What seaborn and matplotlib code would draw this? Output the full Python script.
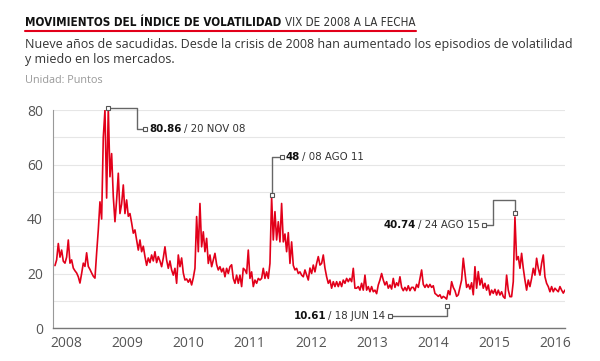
import numpy as np
import pandas as pd
import matplotlib
matplotlib.use('Agg')
import matplotlib.pyplot as plt
import seaborn as sns
from matplotlib.transforms import IdentityTransform
from matplotlib import font_manager
from matplotlib.font_manager import FontProperties

# VIX semanal (lectura del grafico), 2008 - 2016
vix = [22.9, 25, 31, 26, 28.6, 24.5, 23.8, 26, 32.3, 23.8,
       25, 22, 21, 20.2, 18.8, 16.5, 20, 23.8, 22.6, 27.6,
       22.6, 21.5, 20.2, 19, 18.3, 27.5, 36, 46.3, 40, 70,
       80, 47.7, 80.86, 55.5, 64, 48.2, 39, 47, 56.8, 42,
       45.5, 52.5, 42, 47, 41, 42, 38.6, 34.8, 36, 32.3,
       28.6, 32.3, 28, 30, 26.2, 23, 25.7, 24, 26.8, 24.6,
       28, 24, 26.2, 24.6, 22.5, 25.7, 29.8, 24.9, 21.9, 24.6,
       21.3, 19.4, 21.9, 16.4, 26.8, 22.5, 25.7, 20.2, 17.6, 18,
       16.8, 18, 15.8, 18.4, 21.9, 40.9, 28, 45.7, 29.8, 35.3,
       28, 32.9, 23.7, 26.8, 22.5, 25, 27.4, 23.3, 21.3, 22.5,
       20.6, 21.9, 18.8, 21.9, 20, 22.5, 23.2, 18.2, 16.4, 19.4,
       16.4, 19.4, 15.2, 21.9, 21.3, 20, 28.6, 18.2, 20.6, 15.2,
       17.6, 16.4, 18.2, 17.6, 18.2, 21.9, 18.2, 20.6, 18.2, 23.7,
       48, 32.3, 42.7, 32.3, 39, 31.6, 45.7, 31.6, 34.5, 28,
       35, 23.7, 31.6, 23, 21.3, 21.9, 20, 20.6, 19.4, 18.8,
       21.3, 19.4, 17.6, 22, 20, 23.1, 20.6, 23.7, 26.2, 23.1,
       23.7, 26.8, 22, 18.8, 16.4, 17.6, 14.6, 17, 15.2, 17,
       15.2, 17, 15.2, 17.6, 16.4, 18.2, 17, 18.2, 17, 21.9,
       14.6, 14.6, 15.2, 13.9, 16.4, 13.9, 19.4, 13.9, 15.2, 13.3,
       15.2, 13.3, 13.9, 12.6, 15.8, 17.6, 20, 17.6, 15.8, 17,
       14.6, 15.8, 14.3, 18.2, 14.9, 16.6, 15.5, 18.8, 14.9, 13.7,
       14.9, 13.7, 15.5, 13.7, 14.9, 14.9, 13.7, 16, 14.9, 18.2,
       21.3, 16, 14.9, 16, 14.9, 16, 14.9, 15.5, 12.7, 12.2,
       11.6, 12.2, 10.9, 11.6, 11.2, 10.61, 13.7, 12.2, 17, 14.9,
       13.7, 11.6, 12.2, 14.9, 17.6, 25.6, 20.2, 14.9, 16, 14.3,
       16.6, 12.2, 22.5, 14.6, 20.7, 15.8, 18.2, 14.6, 16.4, 13.9,
       15.8, 12.1, 13.9, 12.7, 14.2, 12.1, 13.9, 12.1, 13.3, 11.5,
       10.9, 19.4, 13.9, 11.5, 11.5, 17, 40.74, 25, 26.2, 21.9,
       27.4, 21.9, 17.6, 13.9, 17.6, 15.2, 18.2, 21.9, 19.4, 25.6,
       21.9, 19.4, 23.7, 26.8, 18.8, 16.4, 15.2, 13.3, 15.2, 13.3,
       14.6, 13.9, 13.3, 15.2, 13.9, 12.8, 13.9]

inicio, fin = 2007.82, 2016.153
anios = [2008, 2009, 2010, 2011, 2012, 2013, 2014, 2015, 2016]
niveles = [0, 20, 40, 60, 80]

# puntos destacados
clave_valor = [80.86, 48, 40.74, 10.61]
clave_fecha = ['20 NOV 08', '08 AGO 11', '24 AGO 15', '18 JUN 14']

fecha = np.linspace(inicio, fin, len(vix))
df = pd.DataFrame({'fecha': fecha, 'vix': vix})

# fuente estrecha si existe alguna instalada
def buscar(bold):
    for f in font_manager.fontManager.ttflist:
        n = f.fname.lower()
        if ('condensed' in n or 'narrow' in n) and 'oblique' not in n and 'italic' not in n:
            es_bold = 'bold' in n
            if es_bold == bold:
                return f.fname
    return None

f_reg, f_bold = buscar(False), buscar(True)
hay_estrecha = f_reg is not None and f_bold is not None
escala = 1.0 if hay_estrecha else 0.86

def fp(bold, size):
    if hay_estrecha:
        return FontProperties(fname=f_bold if bold else f_reg, size=size)
    return FontProperties(family='DejaVu Sans', weight='bold' if bold else 'normal', size=size * escala)

sns.set_style('white')
plt.rcParams['font.family'] = ['Open Sans', 'DejaVu Sans']

fig = plt.figure(figsize=(6, 3.61), dpi=100)
ax = fig.add_axes([52.7 / 600, 1 - 328 / 361, (565 - 52.7) / 600, (328 - 110) / 361])

sns.lineplot(data=df, x='fecha', y='vix', ax=ax, color='#e2001a', linewidth=1.2)

ax.set_xlim(2007.783, 2016.154)
ax.set_ylim(0, 80)
ax.set_xticks(anios)
ax.set_xticklabels([str(a) for a in anios])
ax.set_yticks(niveles)
ax.set_yticks(range(10, 81, 10), minor=True)
ax.grid(True, which='both', axis='y', color='#e6e6e6', linewidth=0.8)
ax.grid(False, axis='x')
ax.set_axisbelow(True)
ax.tick_params(axis='both', which='both', length=0, labelsize=10, labelcolor='#555555')
ax.tick_params(axis='y', pad=7)
ax.tick_params(axis='x', pad=6)
ax.set_xlabel('')
ax.set_ylabel('')
for s in ['top', 'right']:
    ax.spines[s].set_visible(False)
ax.spines['left'].set_color('#999999')
ax.spines['left'].set_linewidth(0.8)
ax.spines['bottom'].set_color('#777777')
ax.spines['bottom'].set_linewidth(1.0)

fig.canvas.draw()
r = fig.canvas.get_renderer()
H = 361

def px(x, y):
    return x, H - y

def dos_partes(x, y, fuerte, resto, size, ha='left'):
    # texto con parte en negrita + resto normal, en pixeles (y hacia abajo)
    if ha == 'left':
        t1 = fig.text(*px(x, y), fuerte, transform=IdentityTransform(), fontproperties=fp(True, size),
                      color='#111111', va='center', ha='left')
        e = t1.get_window_extent(r)
        fig.text(e.x1 + 2, H - y, resto, transform=IdentityTransform(), fontproperties=fp(False, size),
                 color='#333333', va='center', ha='left')
    else:
        t2 = fig.text(*px(x, y), resto, transform=IdentityTransform(), fontproperties=fp(False, size),
                      color='#333333', va='center', ha='right')
        e = t2.get_window_extent(r)
        fig.text(e.x0 - 2, H - y, fuerte, transform=IdentityTransform(), fontproperties=fp(True, size),
                 color='#111111', va='center', ha='right')

# conectores: (desfase marca, recorrido en px, lado del texto)
rutas = [
    (0, [(0, 0), (29, 0), (29, 21), (37, 21)], 'left'),
    (-2, [(0, 0), (0, -38), (10, -38)], 'left'),
    (-4, [(0, 0), (0, -13), (-22, -13), (-22, 12), (-31, 12)], 'right'),
    (7, [(0, 0), (0, 10), (-57, 10)], 'right'),
]
for valor, fch, (dm, ruta, lado) in zip(clave_valor, clave_fecha, rutas):
    i = vix.index(valor)
    X, Y = ax.transData.transform((fecha[i], valor))
    Y = H - Y + dm
    xs = [X + dx for dx, dy in ruta]
    ys = [H - (Y + dy) for dx, dy in ruta]
    fig.add_artist(plt.Line2D(xs, ys, transform=IdentityTransform(), color='#666666', lw=1.0))
    for k in [0, -1]:
        fig.add_artist(plt.Line2D([xs[k]], [ys[k]], transform=IdentityTransform(), marker='s',
                                  ms=3.2, mfc='white', mec='#555555', mew=0.8, ls=''))
    etiqueta = f'{valor:g}'
    fx = xs[-1] + (4 if lado == 'left' else -4)
    dos_partes(fx, H - ys[-1], etiqueta, '/ ' + fch, 8.2, ha=lado)

# titulo
t1 = fig.text(*px(25, 25.5), 'MOVIMIENTOS DEL ÍNDICE DE VOLATILIDAD', fontproperties=fp(True, 8.4),
              color='#111111', va='baseline', ha='left', transform=IdentityTransform())
e1 = t1.get_window_extent(r)
t2 = fig.text(e1.x1 + 4, H - 25.5, 'VIX DE 2008 A LA FECHA', fontproperties=fp(False, 8.4),
              color='#333333', va='baseline', ha='left', transform=IdentityTransform())
e2 = t2.get_window_extent(r)
fig.add_artist(plt.Line2D([25, e2.x1], [H - 31, H - 31], transform=IdentityTransform(),
                          color='#e2001a', lw=1.5))

fig.text(*px(25, 47.7), 'Nueve años de sacudidas. Desde la crisis de 2008 han aumentado los episodios de volatilidad',
         size=9, color='#333333', va='baseline', ha='left', transform=IdentityTransform())
fig.text(*px(25, 63.3), 'y miedo en los mercados.', size=9, color='#333333', va='baseline',
         ha='left', transform=IdentityTransform())
fig.text(*px(25, 83), 'Unidad: Puntos', size=7.8, color='#999999', va='baseline', ha='left',
         transform=IdentityTransform())

fig.savefig('out.png', dpi=100)
